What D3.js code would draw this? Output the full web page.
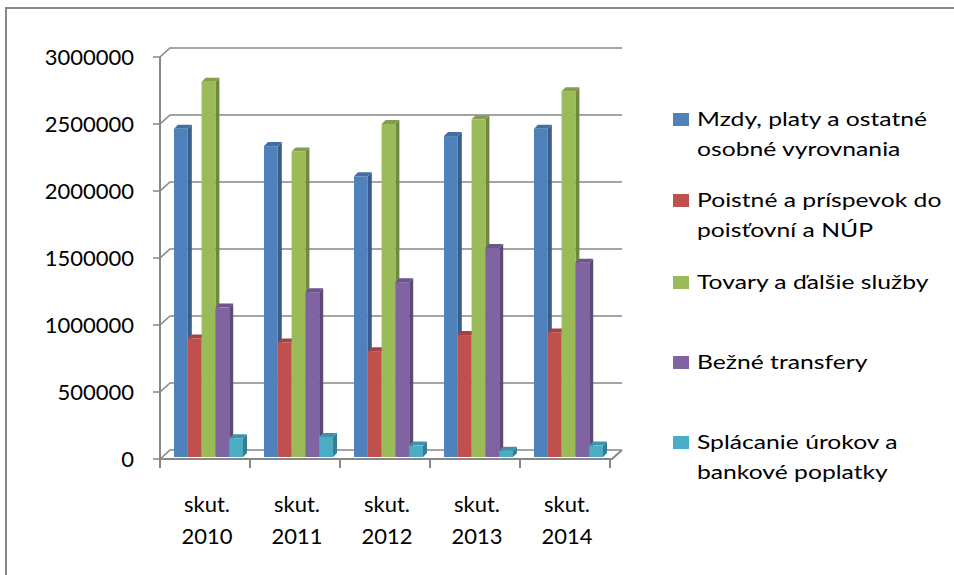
<!doctype html>
<meta charset="utf-8">
<style>
    body { margin: 0; background: #fff; }
    text { font-family: Lato, "Open Sans", sans-serif; fill: #000; }
</style>
<body>
<script src="https://d3js.org/d3.v7.min.js"></script>
<script>
    // data
    const categories = ['skut. 2010', 'skut. 2011', 'skut. 2012', 'skut. 2013', 'skut. 2014'];
    const seriesNames = [
        'Mzdy, platy a ostatné osobné vyrovnania',
        'Poistné a príspevok do poisťovní a NÚP',
        'Tovary a ďalšie služby',
        'Bežné transfery',
        'Splácanie úrokov a bankové poplatky'
    ];
    const mzdy = [2450000, 2320000, 2095000, 2395000, 2450000];
    const poistne = [885000, 855000, 790000, 910000, 930000];
    const tovary = [2800000, 2280000, 2485000, 2520000, 2730000];
    const transfery = [1115000, 1230000, 1305000, 1560000, 1450000];
    const uroky = [140000, 150000, 85000, 47000, 85000];
    const legendLines = [
        ['Mzdy, platy a ostatné', 'osobné vyrovnania'],
        ['Poistné a príspevok do', 'poisťovní a NÚP'],
        ['Tovary a ďalšie služby'],
        ['Bežné transfery'],
        ['Splácanie úrokov a', 'bankové poplatky']
    ];
    const yTicks = [0, 500000, 1000000, 1500000, 2000000, 2500000, 3000000];

    const values = [mzdy, poistne, tovary, transfery, uroky];
    const colors = ['#4f81bd', '#c0504d', '#9bbb59', '#8064a2', '#4bacc6'];

    const width = 954, height = 575;
    const depth = {x: 10, y: -9};
    const barDepth = {x: 4, y: -4};
    const gridColor = '#878787';

    const svg = d3.select('body').append('svg')
        .attr('width', width)
        .attr('height', height);

    // outer frame (only top and left edges visible)
    svg.append('path')
        .attr('d', 'M6,575 L6,8 L954,8')
        .attr('fill', 'none')
        .attr('stroke', gridColor)
        .attr('stroke-width', 2);

    const x = d3.scaleBand().domain(categories).range([160, 610]);
    const xs = d3.scaleBand().domain(seriesNames).range([14, 83]);
    const y = d3.scaleLinear().domain([0, 3000000]).range([459, 57]);

    // back wall gridlines with the diagonal link to the front axis
    svg.append('g').selectAll('path')
        .data(yTicks)
        .enter()
        .append('path')
        .attr('d', d => {
            const yy = y(d);
            return `M153,${yy} L160,${yy} L${160 + depth.x},${yy + depth.y} L${x.range()[1] + 12},${yy + depth.y}`;
        })
        .attr('fill', 'none')
        .attr('stroke', gridColor)
        .attr('stroke-width', 1.6);

    // floor front edge
    svg.append('path')
        .attr('d', `M160,${y(0)} L${x.range()[1] + 2},${y(0)} L${x.range()[1] + 12},${y(0) + depth.y}`)
        .attr('fill', 'none')
        .attr('stroke', gridColor)
        .attr('stroke-width', 2);

    // front vertical axis
    svg.append('line')
        .attr('x1', 160).attr('x2', 160)
        .attr('y1', y(3000000)).attr('y2', y(0) + 9)
        .attr('stroke', gridColor)
        .attr('stroke-width', 2);

    // category ticks
    const tickXs = categories.map(c => x(c)).concat([x.range()[1]]);
    svg.append('g').selectAll('line')
        .data(tickXs)
        .enter()
        .append('line')
        .attr('x1', d => d).attr('x2', d => d)
        .attr('y1', y(0)).attr('y2', y(0) + 9)
        .attr('stroke', gridColor)
        .attr('stroke-width', 2);

    // y labels
    svg.append('g').selectAll('text')
        .data(yTicks)
        .enter()
        .append('text')
        .attr('x', 134)
        .attr('y', d => y(d) + 8)
        .attr('text-anchor', 'end')
        .style('font-size', '22px')
        .text(d => d);

    // x labels
    svg.append('g').selectAll('text')
        .data(categories)
        .enter()
        .append('text')
        .attr('x', d => x(d) + x.bandwidth() / 2 + 2)
        .attr('y', 512)
        .attr('text-anchor', 'middle')
        .style('font-size', '22px')
        .selectAll('tspan')
        .data(d => d.split(' '))
        .enter()
        .append('tspan')
        .attr('x', function () { return d3.select(this.parentNode).attr('x'); })
        .attr('dy', (d, i) => i === 0 ? 0 : 32)
        .text(d => d);

    // 3D bars
    const bars = [];
    categories.forEach((c, ci) => {
        seriesNames.forEach((s, si) => {
            bars.push({c, s, si, v: values[si][ci]});
        });
    });

    const barG = svg.append('g');
    bars.forEach(b => {
        const xl = x(b.c) + xs(b.s);
        const xr = xl + xs.bandwidth();
        const yt = y(b.v) - 2;
        const yb = y(0) - 2;
        const base = d3.color(colors[b.si]);
        const g = barG.append('g');
        // side face
        g.append('polygon')
            .attr('points', [[xr, yt], [xr + barDepth.x, yt + barDepth.y], [xr + barDepth.x, yb + barDepth.y], [xr, yb]].join(' '))
            .attr('fill', base.darker(0.9));
        // top face
        g.append('polygon')
            .attr('points', [[xl, yt], [xl + barDepth.x, yt + barDepth.y], [xr + barDepth.x, yt + barDepth.y], [xr, yt]].join(' '))
            .attr('fill', base.darker(0.45));
        // front face
        g.append('rect')
            .attr('x', xl)
            .attr('y', yt)
            .attr('width', xs.bandwidth())
            .attr('height', yb - yt)
            .attr('fill', base);
    });

    // legend (text in the picture is drawn a little wide)
    const legendY = [119, 200, 282, 362, 442];
    const legend = svg.append('g').selectAll('g')
        .data(seriesNames)
        .enter()
        .append('g')
        .attr('transform', (d, i) => `translate(673, ${legendY[i]})`);

    legend.append('rect')
        .attr('x', 0).attr('y', -6)
        .attr('width', 16).attr('height', 13)
        .attr('fill', (d, i) => colors[i]);

    legend.append('text')
        .attr('transform', 'translate(24, 7) scale(1.3, 1)')
        .style('font-size', '19px')
        .selectAll('tspan')
        .data((d, i) => legendLines[i])
        .enter()
        .append('tspan')
        .attr('x', 0)
        .attr('dy', (d, i) => i === 0 ? 0 : 30)
        .text(d => d);
</script>
